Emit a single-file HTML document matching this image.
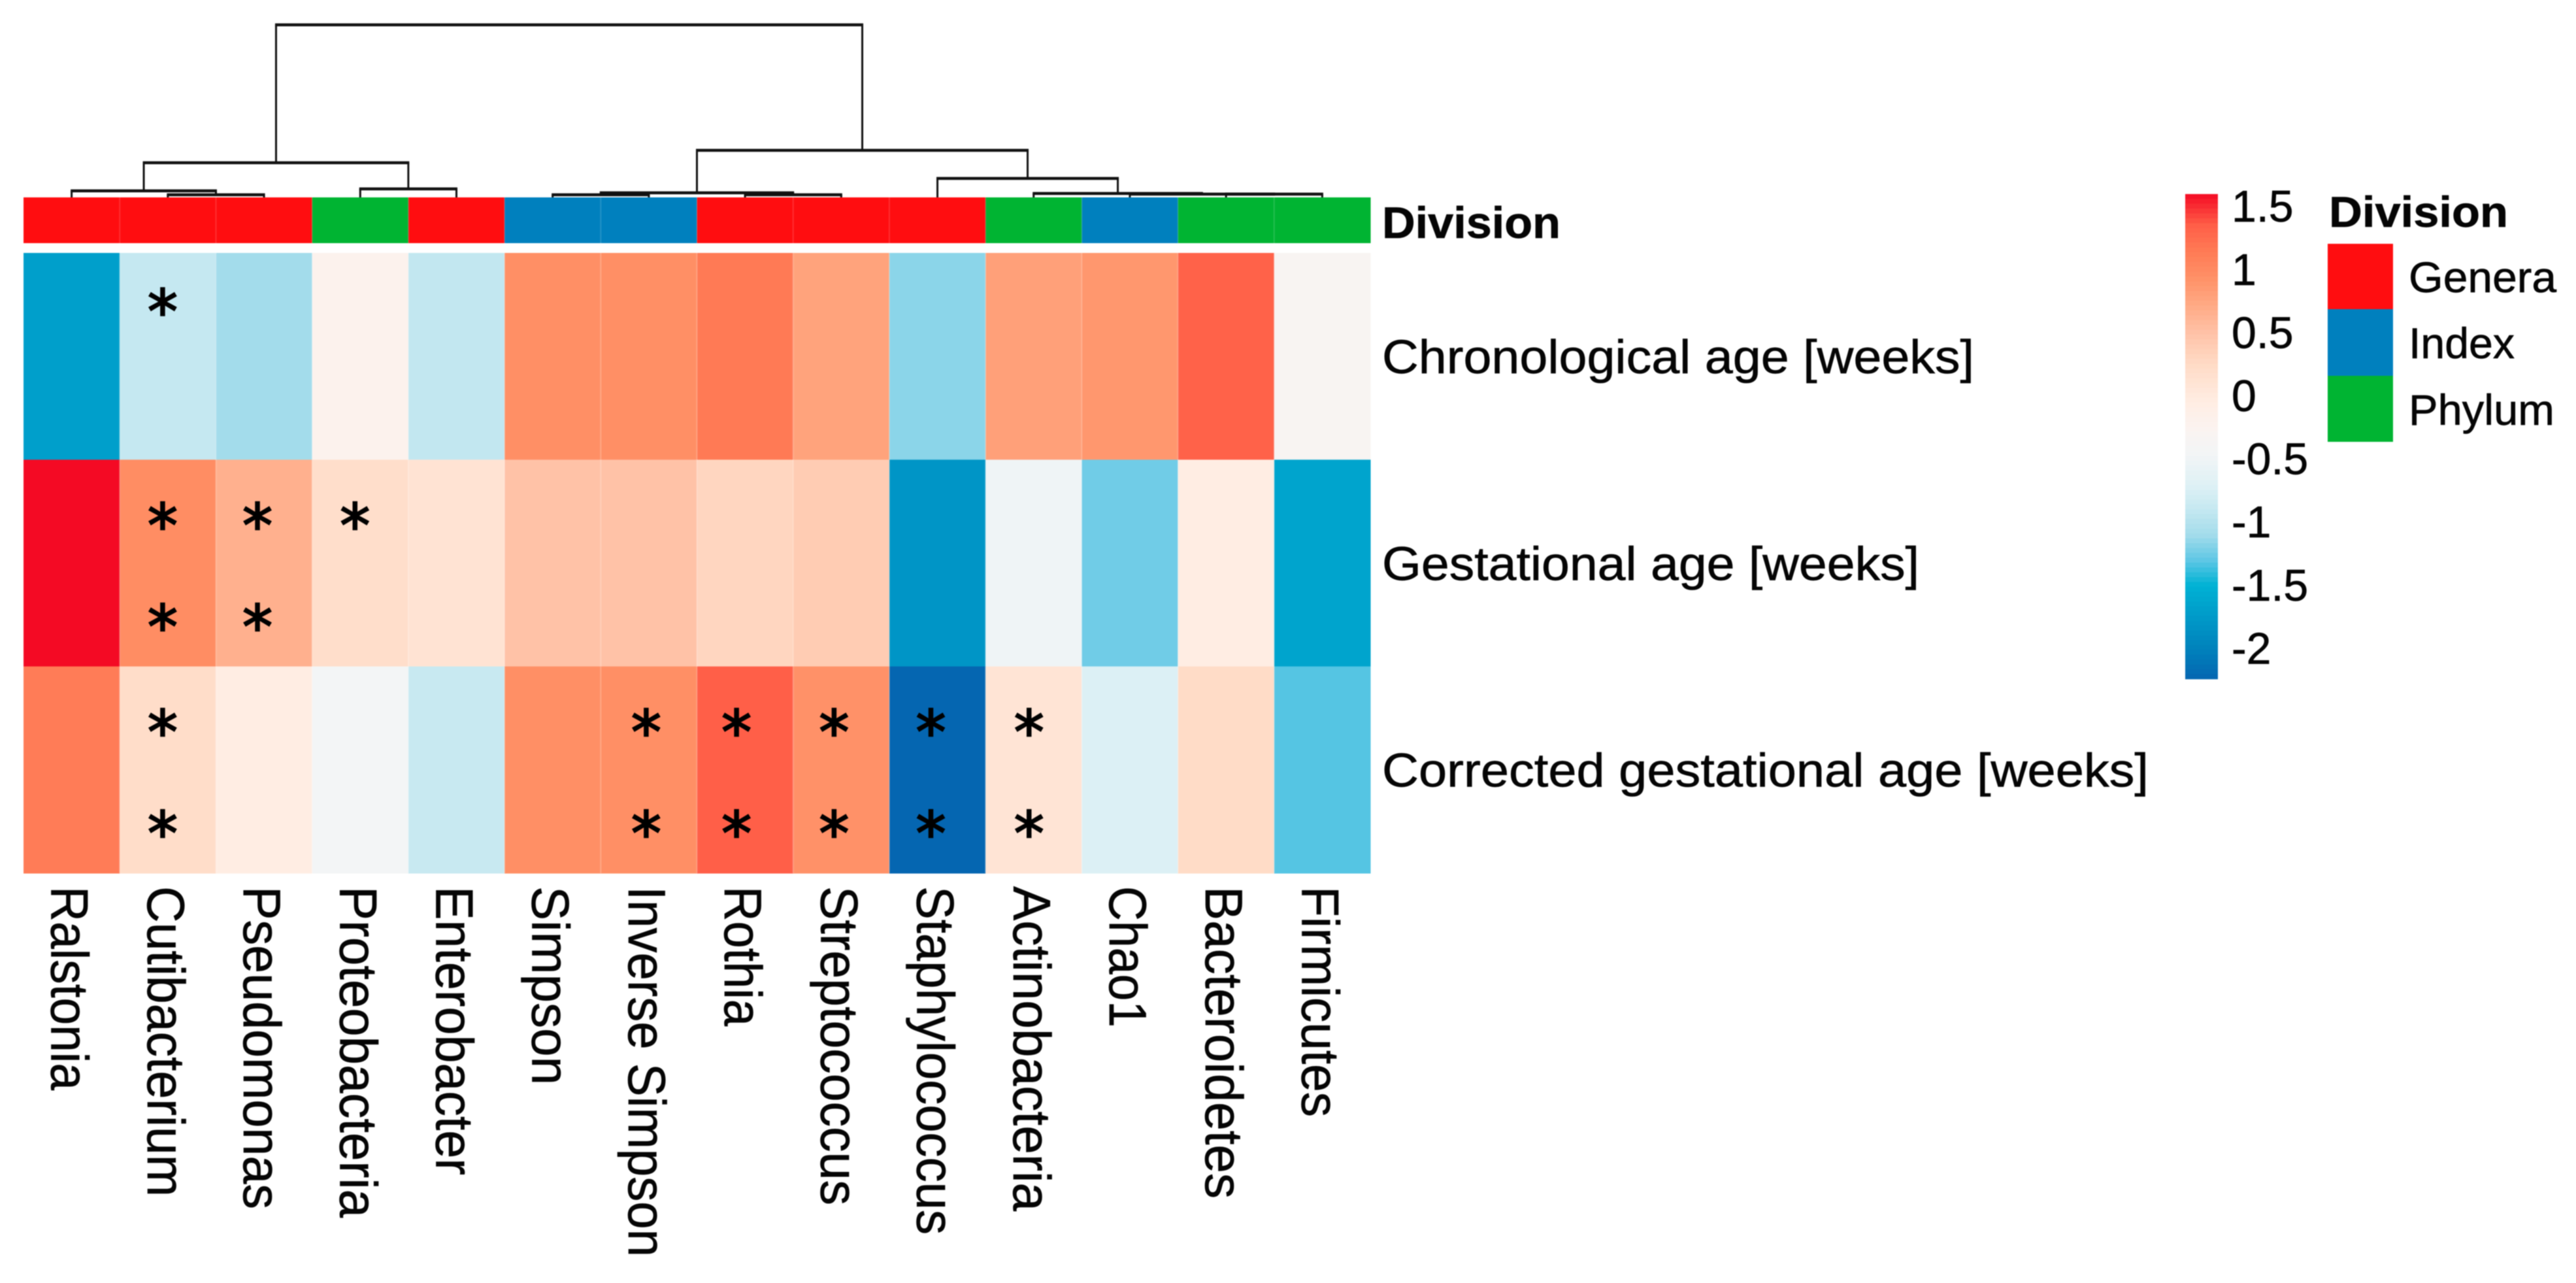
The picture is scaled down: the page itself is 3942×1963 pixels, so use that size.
<!DOCTYPE html>
<html lang="en">
<head>
<meta charset="utf-8">
<title>Heatmap of correlations with age</title>
<style>
html,body{margin:0;padding:0;background:#fff;width:3942px;height:1963px;overflow:hidden}
svg{display:block;filter:blur(0.9px)}
text{font-family:"Liberation Sans",sans-serif;fill:#050505;stroke:#050505;stroke-width:0.7px}
</style>
</head>
<body>
<svg id="chart" xmlns="http://www.w3.org/2000/svg" width="3942" height="1963" viewBox="0 0 3942 1963">
  <rect x="0" y="0" width="3942" height="1963" fill="#ffffff"/>
  <g id="dendrogram"></g>
  <g id="annotation"></g>
  <text x="2115" y="364" font-size="68" font-weight="700" textLength="273" lengthAdjust="spacingAndGlyphs">Division</text>
  <g id="cells"></g>
  <g id="stars"></g>
  <g id="rowlabels"></g>
  <g id="collabels"></g>
  <g id="colorbar"></g>
  <g id="legend">
    <text x="3564" y="347" font-size="66" font-weight="700" textLength="274" lengthAdjust="spacingAndGlyphs">Division</text>
    <rect x="3562" y="373" width="100" height="100" fill="#ff0d10"/>
    <rect x="3562" y="473" width="100" height="102" fill="#0080be"/>
    <rect x="3562" y="575" width="100" height="101" fill="#00b432"/>
    <text x="3686" y="447" font-size="66" textLength="226" lengthAdjust="spacingAndGlyphs">Genera</text>
    <text x="3686" y="548" font-size="66" textLength="162" lengthAdjust="spacingAndGlyphs">Index</text>
    <text x="3686" y="650" font-size="66" textLength="223" lengthAdjust="spacingAndGlyphs">Phylum</text>
  </g>
</svg>
<script>
// ---------- data ----------
const columns = ["Ralstonia","Cutibacterium","Pseudomonas","Proteobacteria","Enterobacter","Simpson","Inverse Simpson","Rothia","Streptococcus","Staphylococcus","Actinobacteria","Chao1","Bacteroidetes","Firmicutes"];
const rows = ["Chronological age [weeks]","Gestational age [weeks]","Corrected gestational age [weeks]"];
const chronologicalValues = [-1.7,-0.9,-1.1,-0.2,-0.92,0.95,0.95,1.15,0.78,-1.17,0.8,0.88,1.33,-0.32];
const gestationalValues = [1.6,0.97,0.66,0.2,0.12,0.5,0.5,0.3,0.4,-1.8,-0.5,-1.25,-0.05,-1.65];
const correctedValues = [1.13,0.22,-0.05,-0.45,-0.88,0.95,0.95,1.35,0.93,-2.24,0.1,-0.72,0.24,-1.32];
const chronologicalStars = [0,1,0,0,0,0,0,0,0,0,0,0,0,0];
const gestationalStars = [0,2,2,1,0,0,0,0,0,0,0,0,0,0];
const correctedStars = [0,2,0,0,0,0,2,2,2,2,2,0,0,0];
const divisions = ["Genera","Genera","Genera","Phylum","Genera","Index","Index","Genera","Genera","Genera","Phylum","Index","Phylum","Phylum"];
const colorTicks = [1.5,1,0.5,0,-0.5,-1,-1.5,-2];
// dendrogram merges: [left, right, height]; a number >= 0 is a leaf column, "mN" refers to merge N
const mergeLeft = [1,0,3,"m1",5,7,"m4",12,11,10,9,"m6","m3"];
const mergeRight = [2,"m0",4,"m2",6,8,"m5",13,"m7","m8","m9","m10","m11"];
const mergeHeight = [4,10,13,53,4,4,7,5,5,6,29,72,264];

const valueRows = [chronologicalValues,gestationalValues,correctedValues];
const starRows = [chronologicalStars,gestationalStars,correctedStars];
const divisionColor = {Genera:"#ff0d10",Index:"#0080be",Phylum:"#00b432"};

// ---------- scales ----------
const NS = "http://www.w3.org/2000/svg";
const plotLeft = 36, plotRight = 2097, heatTop = 387, heatBottom = 1336;
const cellW = (plotRight - plotLeft) / columns.length;
const cellH = (heatBottom - heatTop) / rows.length;
const xCol = i => plotLeft + i * cellW;
const yRow = r => heatTop + r * cellH;
const yDendro = h => 302 - h;
const yBar = v => 606 - v * 193.2;

const colorStops = [
 [-2.24,"#0566b1"],[-2.0,"#0082bc"],[-1.8,"#0095c6"],[-1.5,"#00b2d4"],[-1.3,"#5fc7e5"],[-1.1,"#a3dceb"],
 [-0.9,"#c5e8f1"],[-0.7,"#dff1f5"],[-0.45,"#f3f5f6"],[-0.25,"#fbf3f0"],[-0.05,"#ffede3"],[0.25,"#ffdbc6"],
 [0.5,"#ffc2a7"],[0.75,"#ffa680"],[0.95,"#ff8f65"],[1.15,"#ff7a55"],[1.35,"#ff5f48"],[1.6,"#f40a24"]];
function hex(c){return [1,3,5].map(i=>parseInt(c.substr(i,2),16));}
function colorOf(v){
  if(v<=colorStops[0][0]) return colorStops[0][1];
  for(let i=1;i<colorStops.length;i++){
    if(v<=colorStops[i][0]){
      const t=(v-colorStops[i-1][0])/(colorStops[i][0]-colorStops[i-1][0]);
      const a=hex(colorStops[i-1][1]),b=hex(colorStops[i][1]);
      return "rgb("+a.map((x,k)=>Math.round(x+(b[k]-x)*t)).join(",")+")";
    }
  }
  return colorStops[colorStops.length-1][1];
}
function mk(parent,tag,attrs,txt){
  const el=document.createElementNS(NS,tag);
  for(const k in attrs) el.setAttribute(k,attrs[k]);
  if(txt!==undefined) el.textContent=txt;
  parent.appendChild(el);
  return el;
}
const $=id=>document.getElementById(id);

// ---------- dendrogram ----------
const nodeX = {};
function posOf(ref){
  if(typeof ref==="number") return {x:xCol(ref)+cellW/2,h:0};
  return nodeX[ref];
}
mergeHeight.forEach((h,i)=>{
  const a=posOf(mergeLeft[i]), b=posOf(mergeRight[i]);
  const y=yDendro(h);
  const stems=mk($("dendrogram"),"path",{d:"M"+a.x+" "+yDendro(a.h)+"V"+y+"M"+b.x+" "+yDendro(b.h)+"V"+y,fill:"none",stroke:"#111","stroke-width":3});
  
  
  const bar=mk($("dendrogram"),"path",{d:"M"+(a.x-1.5)+" "+y+"H"+(b.x+1.5),fill:"none",stroke:"#111","stroke-width":4.5});
  
  
  nodeX["m"+i]={x:(a.x+b.x)/2,h:h};
});

// ---------- annotation bar ----------
divisions.forEach((d,i)=>{
  const el=mk($("annotation"),"rect",{x:xCol(i),y:302,width:cellW+0.5,height:70,fill:divisionColor[d]});
  
  
});
for(let c=1;c<columns.length;c++){
  const seam=mk($("annotation"),"rect",{x:xCol(c)-1,y:302,width:2,height:70,fill:"#fff",opacity:0.14});
  
  
}

// ---------- heatmap cells ----------
valueRows.forEach((vals,r)=>{
  vals.forEach((v,c)=>{
    const el=mk($("cells"),"rect",{x:xCol(c),y:yRow(r),width:cellW+0.5,height:cellH+0.5,fill:colorOf(v)});
    
    
  });
});
for(let c=1;c<columns.length;c++){
  const seam=mk($("cells"),"rect",{x:xCol(c)-1,y:heatTop,width:2,height:heatBottom-heatTop,fill:"#fff",opacity:0.22});
  
  
}

// ---------- significance markers ----------
const starNudge = [0,-8,-10,-8,0,0,-4,-13,-11,-10,-7,0,0,0];
starRows.forEach((counts,r)=>{
  counts.forEach((n,c)=>{
    for(let k=0;k<n;k++){
      const cy=yRow(r)+(r===0?74:85)+k*155;
      const cx=xCol(c)+cellW/2+starNudge[c];
      const el=mk($("stars"),"text",{x:cx,y:cy+48,"font-size":92,"text-anchor":"middle",style:'font-family:"DejaVu Sans",sans-serif;fill:#000;stroke:#000;stroke-width:2.4px'},"*");
      
      
    }
  });
});

// ---------- row labels ----------
const rowLabelFit = [906,822,1173];
const rowBaselineOffset = 184;
rows.forEach((t,r)=>{
  const el=mk($("rowlabels"),"text",{x:2115,y:yRow(r)+rowBaselineOffset,"font-size":72,textLength:rowLabelFit[r],lengthAdjust:"spacingAndGlyphs"},t);
  
  
});

// ---------- column labels ----------
const colLabelFit = [312,475,494,507,442,304,567,214,488,533,497,216,478,353];
columns.forEach((t,i)=>{
  const x=xCol(i)+cellW/2-31;
  const el=mk($("collabels"),"text",{transform:"translate("+x+",1356) rotate(90)",x:0,y:0,"font-size":81,textLength:colLabelFit[i],lengthAdjust:"spacingAndGlyphs"},t);
  
  
});

// ---------- colour bar ----------
const barSteps = 100, barMax = 1.6, barMin = -2.24;
for(let i=0;i<barSteps;i++){
  const v1=barMax-(barMax-barMin)*i/barSteps;
  const v2=barMax-(barMax-barMin)*(i+1)/barSteps;
  const el=mk($("colorbar"),"rect",{x:3344,y:yBar(v1),width:50,height:yBar(v2)-yBar(v1)+0.5,fill:colorOf((v1+v2)/2)});
  
  
}
colorTicks.forEach(v=>{
  const el=mk($("colorbar"),"text",{x:3415,y:yBar(v)+23,"font-size":68},String(v));
  
  
});
</script>
</body>
</html>
